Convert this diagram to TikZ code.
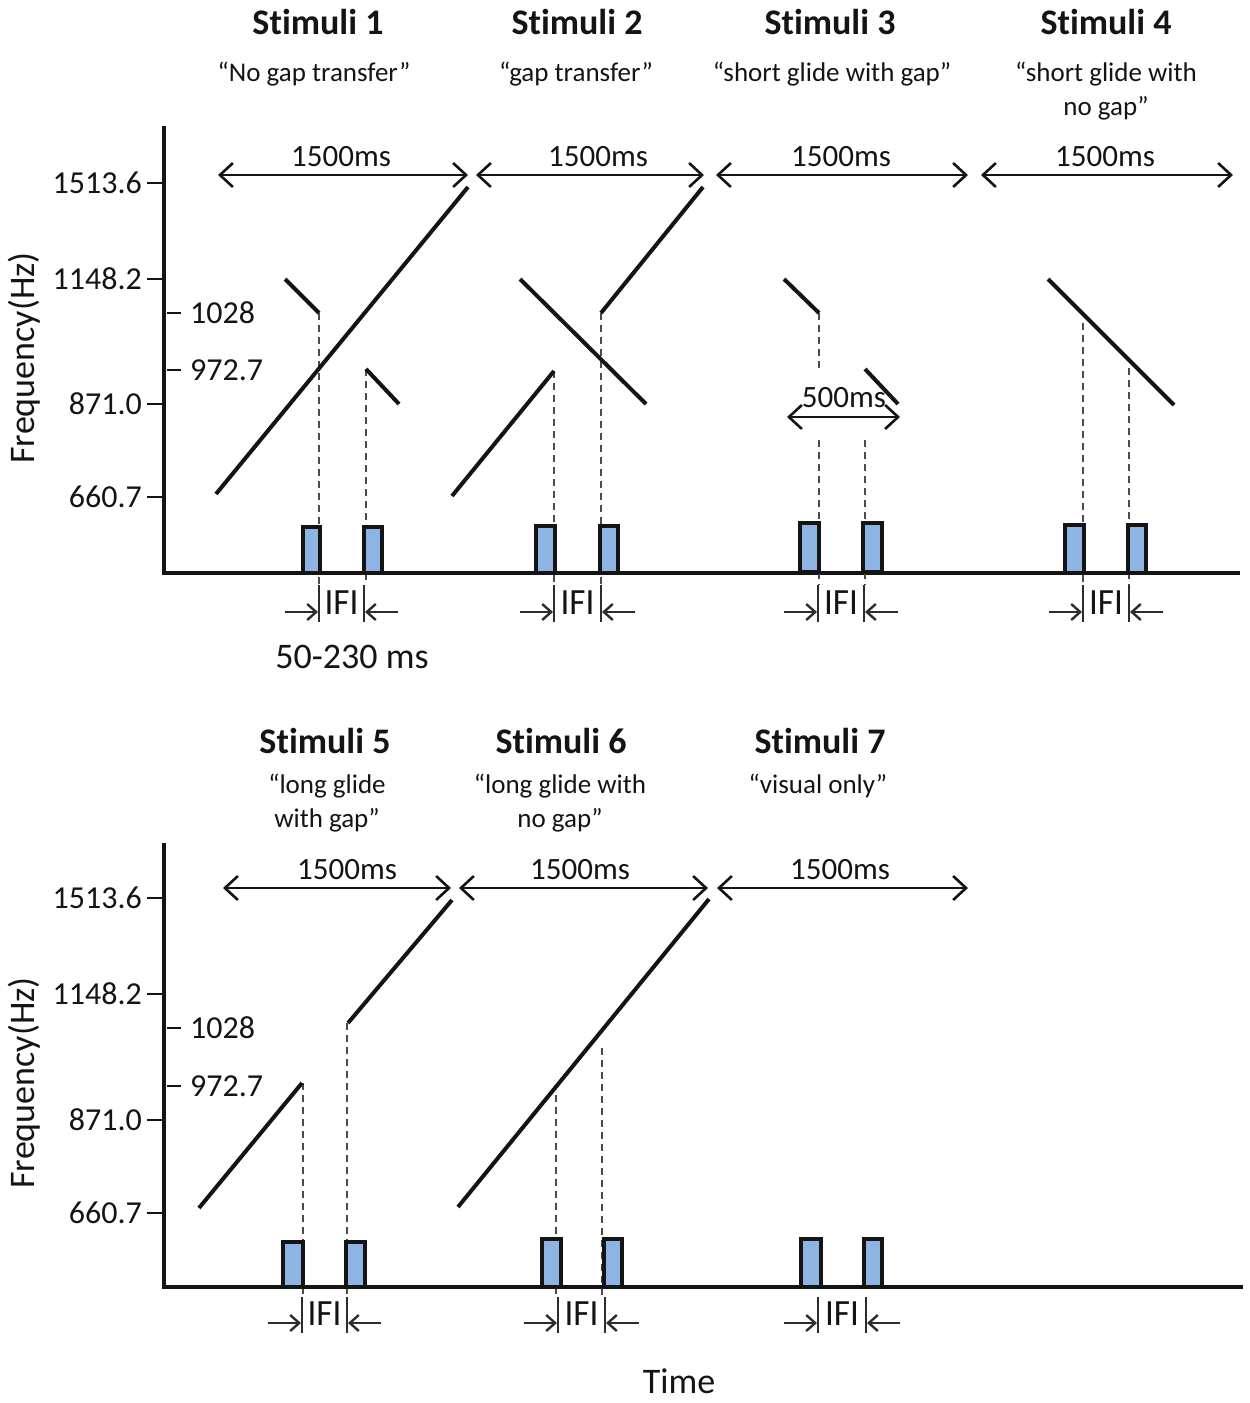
\documentclass[tikz,border=0pt]{standalone}
\usepackage{fontspec}
\setmainfont{Carlito}[Ligatures=NoCommon]
\usetikzlibrary{arrows.meta}
\definecolor{boxblue}{RGB}{141,180,226}
\definecolor{dashgray}{RGB}{75,75,75}
\definecolor{ifigray}{RGB}{45,45,45}
\definecolor{ink}{RGB}{20,20,20}
\newcommand\ifimark[5]{%
  \draw[ifibar] (#1,#3) -- (#1,#4);
  \draw[ifibar] (#2,#3) -- (#2,#4);
  \draw[ifiarr] (#1-34,#4-10) -- (#1-1,#4-10);
  \draw[ifiarr] (#2+34,#4-10) -- (#2+1,#4-10);
  \node[ifilab] (#5) at ({(#1+#2)/2},{(#3+#4)/2-1}) {IFI};}
\begin{document}
\begin{tikzpicture}[x=1pt,y=-1pt, ink,
  axis/.style={line width=3.2pt},
  glide/.style={line width=4pt},
  span/.style={line width=2.6pt, {Straight Barb[length=13pt,width=24pt]}-{Straight Barb[length=13pt,width=24pt]}},
  guide/.style={dashgray, line width=2pt, dash pattern=on 7pt off 5pt},
  flash/.style={draw=ink, line width=3.2pt, fill=boxblue},
  tickmark/.style={line width=2.6pt},
  ticklab/.style={font=\fontsize{32}{32}\selectfont, inner sep=0pt},
  title/.style={font=\fontsize{36}{36}\selectfont\bfseries, inner sep=0pt},
  sub/.style={font=\fontsize{27}{34}\selectfont, align=center, inner sep=0pt},
  dur/.style={font=\fontsize{31}{31}\selectfont, inner sep=0pt},
  ifilab/.style={font=\fontsize{37}{37}\selectfont, inner sep=0pt, xscale=0.95},
  ifibar/.style={ifigray, line width=2.4pt},
  ifiarr/.style={ifigray, line width=2.4pt, -{Straight Barb[length=9pt,width=16pt]}},
  big/.style={font=\fontsize{36}{36}\selectfont, inner sep=0pt},
]
\useasboundingbox (0,0) rectangle (1250,1403);

% ================= TOP PANEL =================
\node[title] (t1) at (318,22) {Stimuli 1};
\node[title] (t2) at (577,22) {Stimuli 2};
\node[title] (t3) at (830,22) {Stimuli 3};
\node[title] (t4) at (1106,22) {Stimuli 4};
\node[sub] (s1) at (314,74) {“No gap transfer”};
\node[sub] (s2) at (576,74) {“gap transfer”};
\node[sub] (s3) at (832,74) {“short glide with gap”};
\node[sub] (s4) at (1106,91) {“short glide with\\no gap”};

\node[big, rotate=90] (fa) at (24,358) {Frequency(Hz)};

\draw[axis] (164,126) -- (164,573) -- (1240,573);
\foreach \yy/\lab in {183/1513.6, 279/1148.2, 404/871.0, 497/660.7}{
  \draw[tickmark] (147,\yy) -- (164,\yy);
  \node[ticklab, anchor=east] at (142,\yy) {\lab};
}
\foreach \yy/\lab in {313/1028, 370/972.7}{
  \draw[tickmark] (167,\yy) -- (181,\yy);
  \node[ticklab, anchor=west] at (190,\yy) {\lab};
}

% durations
\draw[span] (218,175) -- (468,175);
\draw[span] (476,175) -- (704,175);
\draw[span] (716,175) -- (968,175);
\draw[span] (981,175) -- (1233,175);
\node[dur] (d1) at (341,157) {1500ms};
\node[dur] (d2) at (598,157) {1500ms};
\node[dur] (d3) at (841,157) {1500ms};
\node[dur] (d4) at (1105,157) {1500ms};

% guides
\draw[guide] (319,313) -- (319,585);
\draw[guide] (366,369) -- (366,585);
\draw[guide] (554,371) -- (554,585);
\draw[guide] (601,313) -- (601,585);
\draw[guide] (819,313) -- (819,368);
\draw[guide] (819,440) -- (819,585);
\draw[guide] (865,440) -- (865,585);
\draw[guide] (1083,323) -- (1083,585);
\draw[guide] (1129,368) -- (1129,585);

% glides
\draw[glide] (216,494) -- (468,187);
\draw[glide] (285,279) -- (319,313);
\draw[glide] (366,369) -- (399,404);
\draw[glide] (452,496) -- (554,371);
\draw[glide] (520,279) -- (646,404);
\draw[glide] (601,313) -- (703,187);
\draw[glide] (784,279) -- (819,313);
\draw[glide] (865,369) -- (898,404);
\draw[glide] (1048,279) -- (1174,405);

% 500ms
\draw[span] (787,417) -- (900,417);
\node[dur] (d5) at (844,398) {500ms};

% flashes
\draw[flash] (303,527) rectangle (320,573);
\draw[flash] (364,527) rectangle (382,573);
\draw[flash] (536,526) rectangle (555,573);
\draw[flash] (600,526) rectangle (618,573);
\draw[flash] (800,523) rectangle (819,572);
\draw[flash] (863,523) rectangle (882,572);
\draw[flash] (1065,525) rectangle (1084,573);
\draw[flash] (1128,525) rectangle (1146,573);

\ifimark{319}{364}{585}{622}{i1}
\ifimark{554}{601}{585}{622}{i2}
\ifimark{818}{864}{585}{622}{i3}
\ifimark{1083}{1129}{585}{622}{i4}
\node[big] (r) at (352,657) {50-230 ms};

% ================= BOTTOM PANEL =================
\node[title] (t5) at (325,741) {Stimuli 5};
\node[title] (t6) at (561,741) {Stimuli 6};
\node[title] (t7) at (820,741) {Stimuli 7};
\node[sub] (s5) at (327,803) {“long glide\\with gap”};
\node[sub] (s6) at (560,803) {“long glide with\\no gap”};
\node[sub] (s7) at (818,786) {“visual only”};

\node[big, rotate=90] (fb) at (24,1083) {Frequency(Hz)};

\draw[axis] (164,843) -- (164,1287) -- (1243,1287);
\foreach \yy/\lab in {898/1513.6, 994/1148.2, 1120/871.0, 1213/660.7}{
  \draw[tickmark] (147,\yy) -- (164,\yy);
  \node[ticklab, anchor=east] at (142,\yy) {\lab};
}
\foreach \yy/\lab in {1028/1028, 1086/972.7}{
  \draw[tickmark] (167,\yy) -- (181,\yy);
  \node[ticklab, anchor=west] at (190,\yy) {\lab};
}

\draw[span] (223,888) -- (451,888);
\draw[span] (459,888) -- (708,888);
\draw[span] (717,888) -- (968,888);
\node[dur] (d6) at (347,870) {1500ms};
\node[dur] (d7) at (580,870) {1500ms};
\node[dur] (d8) at (840,870) {1500ms};

\draw[guide] (303,1083) -- (303,1297);
\draw[guide] (347,1023) -- (347,1297);
\draw[guide] (556,1095) -- (556,1297);
\draw[guide] (602,1048) -- (602,1297);

\draw[glide] (199,1208) -- (302,1083);
\draw[glide] (348,1023) -- (452,900);
\draw[glide] (458,1207) -- (709,899);

\draw[flash] (283,1242) rectangle (303,1287);
\draw[flash] (346,1242) rectangle (365,1287);
\draw[flash] (542,1239) rectangle (561,1287);
\draw[flash] (604,1239) rectangle (622,1287);
\draw[flash] (801,1239) rectangle (821,1287);
\draw[flash] (864,1239) rectangle (882,1287);

\ifimark{302}{347}{1297}{1333}{i5}
\ifimark{558}{605}{1297}{1333}{i6}
\ifimark{818}{866}{1297}{1333}{i7}

\node[big] (tm) at (679,1381) {Time};
\end{tikzpicture}
\end{document}
